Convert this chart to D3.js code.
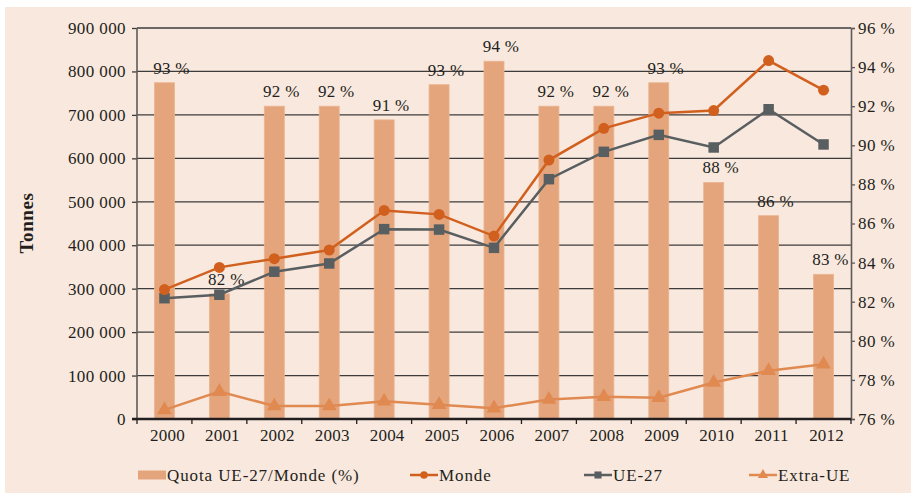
<!DOCTYPE html>
<html>
<head>
<meta charset="utf-8">
<script src="https://cdn.jsdelivr.net/npm/d3@7"></script>
<style>
	body { margin: 0; background: #fff; }
	svg text { font-family: "Liberation Serif", "Times New Roman", serif; fill: #231f20; }
</style>
</head>
<body>
<div id="chart"></div>
<script>
// data
const years = ['2000','2001','2002','2003','2004','2005','2006','2007','2008','2009','2010','2011','2012'];
const quota = [93.2, 82.4, 92.0, 92.0, 91.3, 93.1, 94.3, 92.0, 92.0, 93.2, 88.1, 86.4, 83.4];
const quotaLabels = ['93 %','82 %','92 %','92 %','91 %','93 %','94 %','92 %','92 %','93 %','88 %','86 %','83 %'];
const monde = [298000, 349000, 369000, 389000, 480000, 471000, 421000, 596000, 669000, 704000, 710000, 825000, 757000];
const ue27 = [278000, 286000, 339000, 358000, 437000, 436000, 394000, 552000, 615000, 654000, 625000, 713000, 632000];
const extraUe = [21000, 63000, 30000, 30000, 41000, 33000, 25000, 45000, 51000, 49000, 84000, 111000, 126000];
const leftTicks = [0, 100000, 200000, 300000, 400000, 500000, 600000, 700000, 800000, 900000];
const rightTicks = [76, 78, 80, 82, 84, 86, 88, 90, 92, 94, 96];
const legendLabels = ['Quota UE-27/Monde (%)', 'Monde', 'UE-27', 'Extra-UE'];

const width = 911;
const height = 493;
const margin = {t:28, r:60, b:74, l:137};
const w = width - margin.l - margin.r;
const h = height - margin.t - margin.b;

const colors = {
	bg: '#f9e8dd',
	bar: '#e5a57c',
	monde: '#d1601f',
	ue: '#595e60',
	extra: '#e08a52',
	grid: '#3d3b3b',
	axis: '#5d5a5a'
};

const svg = d3.select('#chart').append('svg')
	.attr('width', width)
	.attr('height', height);

svg.append('rect')
	.attr('x', 5).attr('y', 7)
	.attr('width', width - 5).attr('height', height - 7)
	.style('fill', colors.bg);

const plot = svg.append('g')
	.attr('transform', `translate(${margin.l},${margin.t})`);

// scales
const scaleX = d3.scaleBand().domain(years).range([0, w]);
const scaleY = d3.scaleLinear().domain([0, 900000]).range([h, 0]);
const scaleP = d3.scaleLinear().domain([76, 96]).range([h, 0]);

const fmt = d => d3.format(',')(d).replace(/,/g, ' ');

// gridlines
plot.append('g')
	.attr('class', 'grid')
	.selectAll('line')
	.data(leftTicks.slice(1))
	.enter()
	.append('line')
	.attr('x1', 0).attr('x2', w)
	.attr('y1', d => scaleY(d)).attr('y2', d => scaleY(d))
	.style('stroke', colors.grid)
	.style('stroke-width', 1.3);

// left axis
const axisY = d3.axisLeft(scaleY)
	.tickValues(leftTicks)
	.tickFormat(fmt)
	.tickSize(5)
	.tickPadding(6);

const axisYNode = plot.append('g').attr('class', 'axis axis-y').call(axisY);
axisYNode.select('.domain').remove();
axisYNode.selectAll('.tick line').style('stroke', colors.grid).style('stroke-width', 1.3);
axisYNode.selectAll('text')
	.style('font-size', '17px')
	.style('letter-spacing', '0.4px')
	.style('font-family', '"Liberation Serif", serif')
	.style('fill', '#231f20');
plot.append('line')
	.attr('x1', 0).attr('x2', 0).attr('y1', 0).attr('y2', h)
	.style('stroke', colors.axis).style('stroke-width', 1.6);

// right axis
const axisP = d3.axisRight(scaleP)
	.tickValues(rightTicks)
	.tickFormat(d => d + ' %')
	.tickSize(4)
	.tickPadding(3);

const axisPNode = plot.append('g')
	.attr('class', 'axis axis-p')
	.attr('transform', `translate(${w},0)`)
	.call(axisP);
axisPNode.select('.domain').style('stroke', colors.axis).style('stroke-width', 1.6);
axisPNode.selectAll('.tick line').style('stroke', colors.axis).style('stroke-width', 1.3);
axisPNode.selectAll('text')
	.style('font-size', '17px')
	.style('letter-spacing', '0.4px')
	.style('font-family', '"Liberation Serif", serif')
	.style('fill', '#231f20');

// bars
plot.selectAll('.bin')
	.data(quota)
	.enter()
	.append('rect')
	.attr('class', 'bin')
	.attr('x', (d, i) => scaleX(years[i]) + scaleX.bandwidth() / 2 - 10)
	.attr('width', 20)
	.attr('y', d => scaleP(d))
	.attr('height', d => h - scaleP(d))
	.style('fill', colors.bar)
	.style('stroke', '#eab590')
	.style('stroke-width', 0.8);

// bar labels
plot.selectAll('.bar-label')
	.data(quota)
	.enter()
	.append('text')
	.attr('class', 'bar-label')
	.attr('x', (d, i) => scaleX(years[i]) + scaleX.bandwidth() / 2 + 7)
	.attr('y', d => scaleP(d) - 9)
	.attr('text-anchor', 'middle')
	.style('font-size', '17px')
	.style('letter-spacing', '0.3px')
	.text((d, i) => quotaLabels[i]);

// x axis
const axisX = d3.axisBottom(scaleX).tickSize(0).tickPadding(10);
const axisXNode = plot.append('g')
	.attr('class', 'axis axis-x')
	.attr('transform', `translate(0,${h})`)
	.call(axisX);
axisXNode.select('.domain').remove();
axisXNode.selectAll('text')
	.attr('dx', 3)
	.style('font-size', '17px')
	.style('letter-spacing', '0.2px')
	.style('font-family', '"Liberation Serif", serif')
	.style('fill', '#231f20');
axisXNode.selectAll('.xtick')
	.data(years.concat(['end']))
	.enter()
	.append('line')
	.attr('class', 'xtick')
	.attr('x1', (d, i) => i * scaleX.step()).attr('x2', (d, i) => i * scaleX.step())
	.attr('y1', 0).attr('y2', 5)
	.style('stroke', '#231f20')
	.style('stroke-width', 1.3);
axisXNode.append('line')
	.attr('x1', -5).attr('x2', w)
	.attr('y1', 0).attr('y2', 0)
	.style('stroke', '#231f20')
	.style('stroke-width', 2.6);

// lines
const cx = i => scaleX(years[i]) + scaleX.bandwidth() / 2;
const lineGen = d3.line()
	.x((d, i) => cx(i))
	.y(d => scaleY(d));

const series = [
	{name: 'extra', values: extraUe, color: colors.extra, symbol: d3.symbolTriangle, size: 95},
	{name: 'ue', values: ue27, color: colors.ue, symbol: d3.symbolSquare, size: 110},
	{name: 'monde', values: monde, color: colors.monde, symbol: d3.symbolCircle, size: 95}
];

series.forEach(s => {
	plot.append('path')
		.datum(s.values)
		.attr('d', lineGen)
		.style('fill', 'none')
		.style('stroke', s.color)
		.style('stroke-width', 2.5);

	plot.selectAll('.pt-' + s.name)
		.data(s.values)
		.enter()
		.append('path')
		.attr('class', 'pt-' + s.name)
		.attr('transform', (d, i) => `translate(${cx(i)},${scaleY(d)})`)
		.attr('d', d3.symbol().type(s.symbol).size(s.size))
		.style('fill', s.color);
});

// Tonnes
svg.append('text')
	.attr('transform', 'translate(33,223) rotate(-90)')
	.attr('text-anchor', 'middle')
	.style('font-size', '19px')
	.style('font-weight', 'bold')
	.style('letter-spacing', '0.6px')
	.text('Tonnes');

// legend
const legend = svg.append('g').attr('class', 'legend').attr('transform', 'translate(0,475)');
const legendItems = [
	{x: 138, type: 'bar', color: colors.bar},
	{x: 410, type: 'line', color: colors.monde, symbol: d3.symbolCircle, size: 45},
	{x: 584, type: 'line', color: colors.ue, symbol: d3.symbolSquare, size: 50},
	{x: 749, type: 'line', color: colors.extra, symbol: d3.symbolTriangle, size: 45}
];

legendItems.forEach((it, i) => {
	const g = legend.append('g').attr('transform', `translate(${it.x},0)`);
	if (it.type === 'bar') {
		g.append('rect')
			.attr('x', 0).attr('y', -4.5)
			.attr('width', 28).attr('height', 9)
			.style('fill', it.color);
	} else {
		g.append('line')
			.attr('x1', 0).attr('x2', 28)
			.attr('y1', 0).attr('y2', 0)
			.style('stroke', it.color)
			.style('stroke-width', 2.5);
		g.append('path')
			.attr('transform', 'translate(14,0)')
			.attr('d', d3.symbol().type(it.symbol).size(it.size))
			.style('fill', it.color);
	}
	g.append('text')
		.attr('x', 29)
		.attr('y', 5.5)
		.style('font-size', '17px')
		.style('letter-spacing', '0.9px')
		.text(legendLabels[i]);
});
</script>
</body>
</html>
